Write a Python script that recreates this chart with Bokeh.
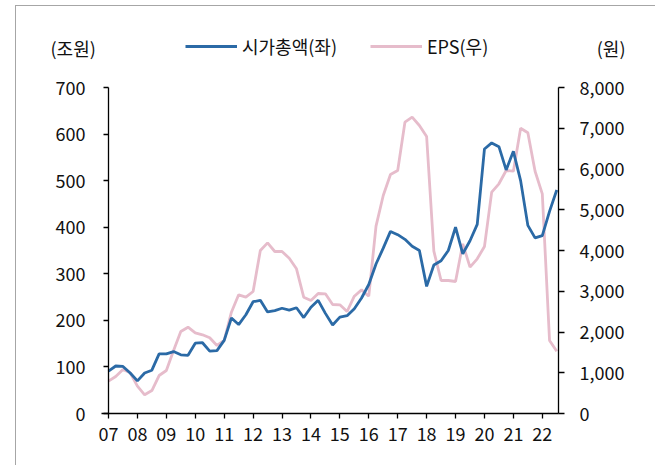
from bokeh.plotting import figure
from bokeh.models import Range1d, LinearAxis, FixedTicker, Legend, LegendItem, Label, NumeralTickFormatter
from bokeh.embed import file_html
from bokeh.resources import INLINE

# ---- data (quarterly, 2007Q1 .. 2022Q3) ----
years = list(range(2007, 2023))
year_labels = ["07", "08", "09", "10", "11", "12", "13", "14", "15", "16", "17", "18", "19", "20", "21", "22"]

market_cap = [91, 102, 101, 87, 70, 87, 93, 128, 128, 133, 126, 125, 151, 152, 134, 135,
              157, 205, 191, 212, 240, 243, 218, 221, 226, 222, 227, 206, 228, 243, 215, 190,
              207, 210, 225, 248, 277, 321, 355, 391, 384, 374, 359, 350, 273, 319, 328, 350,
              400, 343, 371, 406, 568, 581, 573, 523, 563, 500, 404, 377, 382, 434, 480]

eps = [793, 908, 1080, 999, 670, 459, 564, 932, 1055, 1546, 2012, 2118, 1980, 1931, 1858, 1670,
       1791, 2486, 2912, 2855, 2994, 4000, 4188, 3975, 3975, 3811, 3551, 2855, 2773, 2945, 2937, 2675,
       2667, 2503, 2879, 3035, 2879, 4597, 5350, 5865, 5963, 7149, 7272, 7067, 6798, 3983, 3264, 3264,
       3239, 4164, 3590, 3796, 4098, 5431, 5637, 5963, 5946, 7001, 6889, 5946, 5391, 1791, 1529]

left_ticks = [0, 100, 200, 300, 400, 500, 600, 700]
right_ticks = [0, 1000, 2000, 3000, 4000, 5000, 6000, 7000, 8000]
left_unit = "(조원)"
right_unit = "(원)"

x = [years[0] + i / 4 for i in range(len(market_cap))]

FONT = "Noto Sans CJK KR"
BLUE = "#2b6aa6"
PINK = "#e6bccb"

# Canvas 640x460; the data area (axes) sits at 92..542 px horizontally, 81..407 px vertically.
W, H = 640, 460
FL, FR, FT, FB = 92, 542, 81, 407
X0, X1 = 2007, 2022.56
pxx = (FR - FL) / (X1 - X0)
pyl = (FB - FT) / 700.0
pyr = (FB - FT) / 8000.0

p = figure(width=W, height=H, output_backend="svg", toolbar_location=None,
           x_range=Range1d(X0 - FL / pxx, X1 + (W - FR) / pxx),
           y_range=Range1d(-(H - FB) / pyl, 700 + FT / pyl),
           min_border_left=0, min_border_right=0, min_border_top=0, min_border_bottom=0)
p.styles = {"position": "relative", "left": "15px", "top": "5px",
            "border-left": "1px solid #a6a6a6", "border-top": "1px solid #a6a6a6"}
p.outline_line_color = None
p.xgrid.visible = False
p.ygrid.visible = False
p.background_fill_color = "white"
p.border_fill_color = "white"

p.extra_y_ranges = {"eps": Range1d(-(H - FB) / pyr, 8000 + FT / pyr)}

pink_r = p.line(x, eps, y_range_name="eps", line_color=PINK, line_width=2.8)
blue_r = p.line(x, market_cap, line_color=BLUE, line_width=2.8)

def style_axis(ax):
    ax.axis_line_color = "black"
    ax.axis_line_width = 1.3
    ax.major_tick_line_color = "black"
    ax.major_tick_line_width = 1.3
    ax.major_tick_in = 0
    ax.minor_tick_line_color = None
    ax.major_label_text_font = FONT
    ax.major_label_text_font_size = "18px"
    ax.major_label_text_color = "#111111"

xa = p.xaxis[0]
xa.ticker = FixedTicker(ticks=years)
xa.major_label_overrides = {y: l for y, l in zip(years, year_labels)}
style_axis(xa)
xa.major_tick_out = 5
xa.major_label_standoff = 8
xa.fixed_location = 0
xa.bounds = (X0 - 7 / pxx, X1)

ya = p.yaxis[0]
ya.ticker = FixedTicker(ticks=left_ticks)
style_axis(ya)
ya.major_tick_out = 5
ya.major_label_standoff = 18
ya.fixed_location = X0
ya.bounds = (0, 700)

ra = LinearAxis(y_range_name="eps", ticker=FixedTicker(ticks=right_ticks),
                formatter=NumeralTickFormatter(format="0,0"))
style_axis(ra)
ra.major_tick_out = 6
ra.major_label_standoff = 15
ra.fixed_location = X1
ra.bounds = (0, 8000)
p.add_layout(ra, "right")

legend = Legend(items=[LegendItem(label="시가총액(좌)", renderers=[blue_r]),
                       LegendItem(label="EPS(우)", renderers=[pink_r])],
                orientation="horizontal", location=(169, 407),
                glyph_width=52, glyph_height=20, label_standoff=5, spacing=33,
                padding=0, margin=0, border_line_alpha=0, background_fill_alpha=0,
                label_text_font=FONT, label_text_font_size="18px", label_text_color="#111111")
p.add_layout(legend, "center")

unit_y = 700 + (FT - 41) / pyl
p.add_layout(Label(x=X0 - (FL - 34) / pxx, y=unit_y, text=left_unit, text_align="left",
                   text_baseline="middle", text_font=FONT, text_font_size="18px",
                   text_color="#111111"))
p.add_layout(Label(x=X1 + (609 - FR) / pxx, y=unit_y, text=right_unit, text_align="right",
                   text_baseline="middle", text_font=FONT, text_font_size="18px",
                   text_color="#111111"))

open("out.html", "w").write(file_html(p, INLINE))
